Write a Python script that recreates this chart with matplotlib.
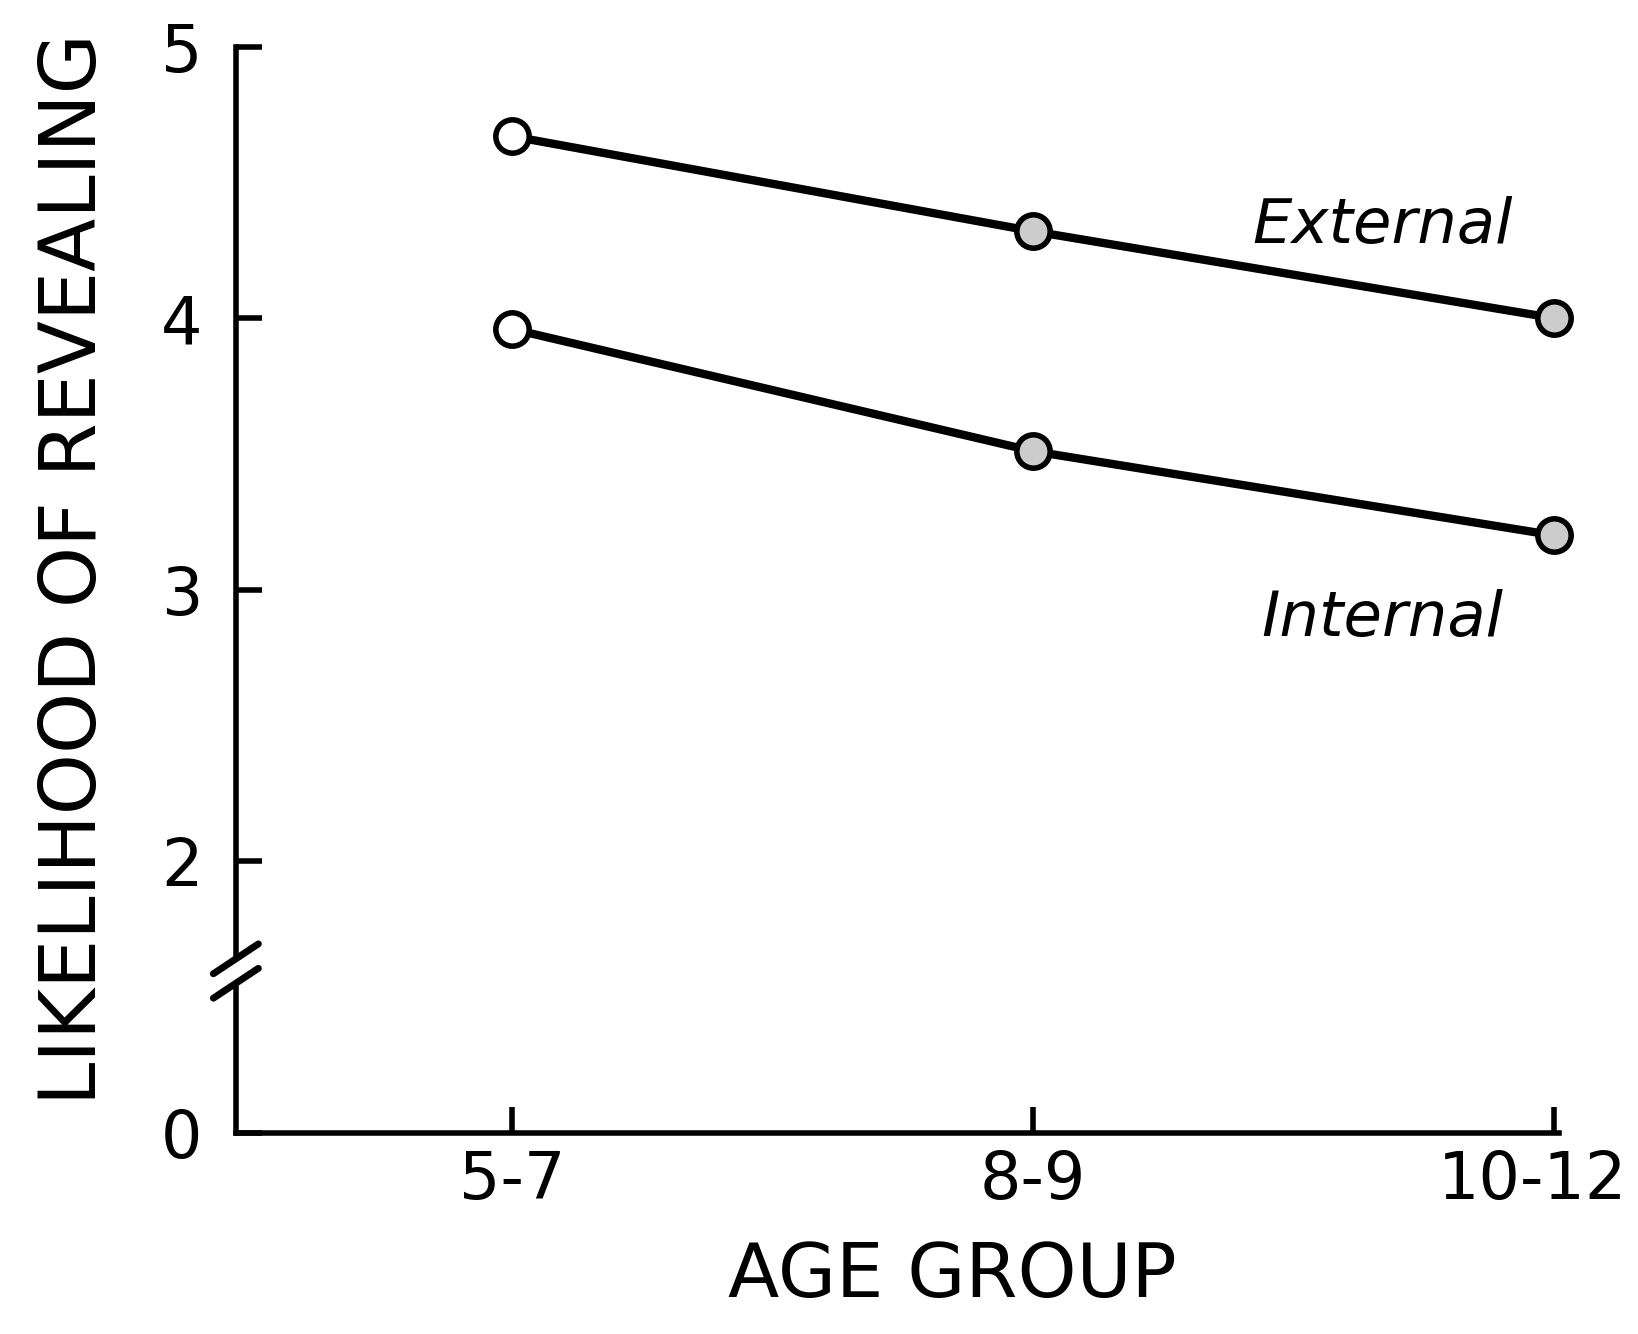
import matplotlib
matplotlib.use("Agg")
import matplotlib.pyplot as plt
import matplotlib.transforms as mtransforms

categories = ["5-7", "8-9", "10-12"]
external = [4.67, 4.32, 4.00]
internal = [3.96, 3.51, 3.20]
ytick_vals = [1, 2, 3, 4, 5]
ytick_labels = ["0", "2", "3", "4", "5"]

fig = plt.figure(figsize=(16.38, 13.34), dpi=100)
ax = fig.add_axes([0.144, 0.151, 0.808, 0.814])
x = list(range(len(categories)))

for vals in (external, internal):
    ax.plot(x, vals, color="black", lw=6, zorder=2, clip_on=False)
    ax.plot(x[:1], vals[:1], "o", ms=24, mfc="white", mec="black", mew=4, zorder=3,
            clip_on=False)
    ax.plot(x[1:], vals[1:], "o", ms=24, mfc="#cccccc", mec="black", mew=4, zorder=3,
            clip_on=False)

ax.set_xlim(-0.53, 2.01)
ax.set_ylim(1, 5)
ax.set_xticks(x)
ax.set_xticklabels(categories)
ax.set_yticks(ytick_vals)
ax.set_yticklabels(ytick_labels)
for s in ("top", "right"):
    ax.spines[s].set_visible(False)
for s in ("left", "bottom"):
    ax.spines[s].set_linewidth(4)
ax.tick_params(axis="both", direction="in", length=19, width=4, labelsize=47)
ax.tick_params(axis="y", pad=24)
ax.tick_params(axis="x", pad=12)

# shift the last x tick label slightly left, as in the reference
last = ax.get_xticklabels()[-1]
last.set_transform(last.get_transform() +
                   mtransforms.ScaledTranslation(-0.22, 0, fig.dpi_scale_trans))

# axis break on the y axis
yt = ax.get_yaxis_transform()
ax.plot([0, 0], [1.57, 1.62], color="white", lw=10, transform=yt, clip_on=False, zorder=4)
for yb in (1.64, 1.55):
    ax.plot([-0.017, 0.017], [yb - 0.055, yb + 0.055], color="black", lw=5,
            transform=yt, clip_on=False, zorder=5, solid_capstyle="round")

fig.text(74 / 1638, 1 - 569 / 1334, "LIKELIHOOD OF REVEALING", fontsize=56,
         rotation=90, ha="center", va="center")
fig.text(952 / 1638, 1 - 1276 / 1334, "AGE GROUP", fontsize=54, ha="center", va="center")

ax.text(1.67, 4.34, "External", fontsize=45, style="italic", ha="center", va="center")
ax.text(1.67, 2.89, "Internal", fontsize=45, style="italic", ha="center", va="center")

fig.savefig("out.png", dpi=100)
